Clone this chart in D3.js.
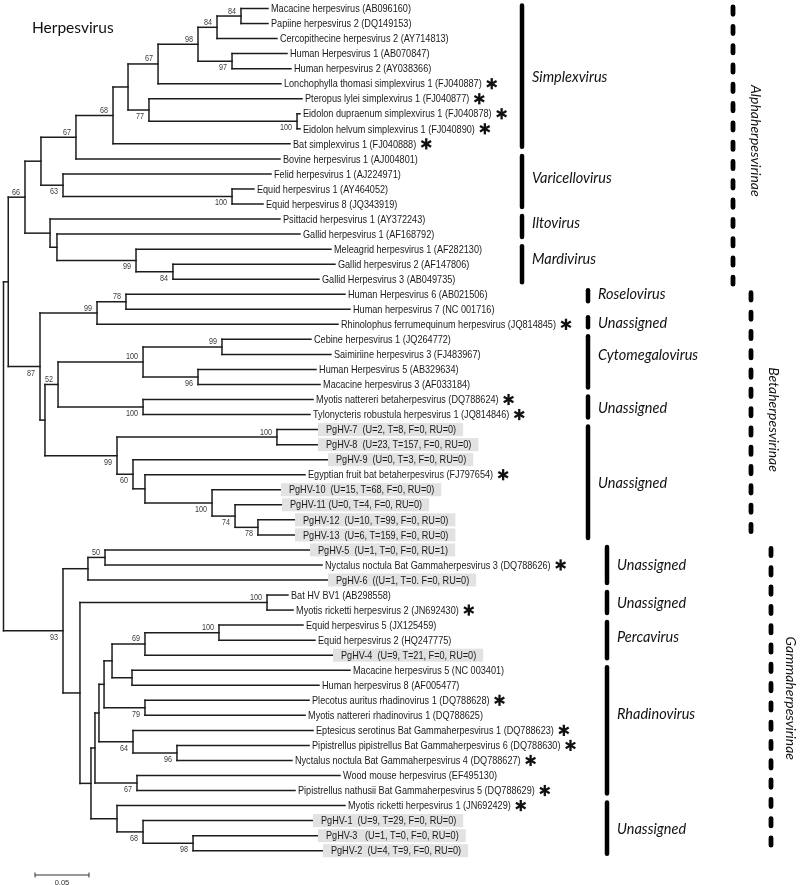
<!DOCTYPE html>
<html><head><meta charset="utf-8">
<script src="https://cdn.jsdelivr.net/npm/d3@7"></script>
<style>
html,body{margin:0;padding:0;background:#fff;}
svg{display:block;opacity:0.999;will-change:transform;}
text{white-space:pre;}
</style></head><body>
<svg id="chart" width="800" height="885"></svg>
<script>
// ---------------- DATA ----------------
const taxa = [
 "Macacine herpesvirus (AB096160)","Papiine herpesvirus 2 (DQ149153)","Cercopithecine herpesvirus 2 (AY714813)",
 "Human Herpesvirus 1 (AB070847)","Human herpesvirus 2 (AY038366)","Lonchophylla thomasi simplexvirus 1 (FJ040887)",
 "Pteropus lylei simplexvirus 1 (FJ040877)","Eidolon dupraenum simplexvirus 1 (FJ040878)","Eidolon helvum simplexvirus 1 (FJ040890)",
 "Bat simplexvirus 1 (FJ040888)","Bovine herpesvirus 1 (AJ004801)","Felid herpesvirus 1 (AJ224971)",
 "Equid herpesvirus 1 (AY464052)","Equid herpesvirus 8 (JQ343919)","Psittacid herpesvirus 1 (AY372243)",
 "Gallid herpesvirus 1 (AF168792)","Meleagrid herpesvirus 1 (AF282130)","Gallid herpesvirus 2 (AF147806)",
 "Gallid Herpesvirus 3 (AB049735)","Human Herpesvirus 6 (AB021506)","Human herpesvirus 7 (NC 001716)",
 "Rhinolophus ferrumequinum herpesvirus (JQ814845)","Cebine herpesvirus 1 (JQ264772)","Saimiriine herpesvirus 3 (FJ483967)",
 "Human Herpesvirus 5 (AB329634)","Macacine herpesvirus 3 (AF033184)","Myotis nattereri betaherpesvirus (DQ788624)",
 "Tylonycteris robustula herpesvirus 1 (JQ814846)","PgHV-7  (U=2, T=8, F=0, RU=0)","PgHV-8  (U=23, T=157, F=0, RU=0)",
 "PgHV-9  (U=0, T=3, F=0, RU=0)","Egyptian fruit bat betaherpesvirus (FJ797654)","PgHV-10  (U=15, T=68, F=0, RU=0)",
 "PgHV-11 (U=0, T=4, F=0, RU=0)","PgHV-12  (U=10, T=99, F=0, RU=0)","PgHV-13  (U=6, T=159, F=0, RU=0)",
 "PgHV-5  (U=1, T=0, F=0, RU=1)","Nyctalus noctula Bat Gammaherpesvirus 3 (DQ788626)","PgHV-6  ((U=1, T=0. F=0, RU=0)",
 "Bat HV BV1 (AB298558)","Myotis ricketti herpesvirus 2 (JN692430)","Equid herpesvirus 5 (JX125459)",
 "Equid herpesvirus 2 (HQ247775)","PgHV-4  (U=9, T=21, F=0, RU=0)","Macacine herpesvirus 5 (NC 003401)",
 "Human herpesvirus 8 (AF005477)","Plecotus auritus rhadinovirus 1 (DQ788628)","Myotis nattereri rhadinovirus 1 (DQ788625)",
 "Eptesicus serotinus Bat Gammaherpesvirus 1 (DQ788623)","Pipistrellus pipistrellus Bat Gammaherpesvirus 6 (DQ788630)",
 "Nyctalus noctula Bat Gammaherpesvirus 4 (DQ788627)","Wood mouse herpesvirus (EF495130)",
 "Pipistrellus nathusii Bat Gammaherpesvirus 5 (DQ788629)","Myotis ricketti herpesvirus 1 (JN692429)",
 "PgHV-1  (U=9, T=29, F=0, RU=0)","PgHV-3   (U=1, T=0, F=0, RU=0)","PgHV-2  (U=4, T=9, F=0, RU=0)"
];
// distance of each tip from the root (substitutions/site)
const tipDistance = [
 0.2449,0.2449,0.2532,0.2625,0.2662,0.2569,0.2764,0.2745,0.2745,0.2653,
 0.2560,0.2477,0.2319,0.2403,0.2560,0.2745,0.3032,0.3069,0.2921,0.3162,
 0.3208,0.3097,0.2847,0.3032,0.2894,0.2931,0.2866,0.2838,0.2912,0.2912,
 0.3005,0.2792,0.2569,0.2579,0.2699,0.2699,0.2838,0.2949,0.3005,0.2634,
 0.2681,0.2773,0.2884,0.3051,0.3208,0.2921,0.2829,0.2792,0.2866,0.2829,
 0.2671,0.3116,0.2699,0.3162,0.2866,0.2912,0.2958
];
// bat herpesviruses marked with an asterisk (tip indices)
const starredTips = [5,6,7,8,9,21,26,27,31,37,40,46,48,49,50,52,53];
// newly detected PgHV sequences (highlighted tips)
const highlightedTips = [28,29,30,32,33,34,35,36,38,43,54,55,56];
// internal nodes: [id, children, distance from root, bootstrap]
const clades = [
 ["a1",["L0","L1"],0.2199,"84"],["a2",["a1","L2"],0.1977,"84"],["a3",["L3","L4"],0.2116,"97"],
 ["a4",["a2","a3"],0.1801,"98"],["a5",["a4","L5"],0.1431,"67"],["a6",["L7","L8"],0.2718,"100"],
 ["a7",["L6","a6"],0.1347,"77"],["a8",["a5","a7"],0.1153,""],["a9",["a8","L9"],0.1014,"68"],
 ["a10",["a9","L10"],0.0671,"67"],["a11",["L12","L13"],0.2116,"100"],["a12",["L11","a11"],0.0551,"63"],
 ["a13",["a10","a12"],0.0347,""],["a14",["L17","L18"],0.1569,"84"],["a15",["L16","a14"],0.1227,"99"],
 ["a16",["L15","a15"],0.0495,""],["a17",["L14","a16"],0.0431,""],["a18",["a13","a17"],0.0199,"66"],
 ["b1",["L19","L20"],0.1134,"78"],["b2",["b1","L21"],0.0866,"99"],["b3",["L22","L23"],0.2023,"99"],
 ["b4",["L24","L25"],0.1801,"96"],["b5",["b3","b4"],0.1292,"100"],["b6",["L26","L27"],0.1292,"100"],
 ["b7",["b5","b6"],0.0505,"52"],["b8",["L28","L29"],0.2532,"100"],["b9",["L34","L35"],0.2356,"78"],
 ["b10",["L33","b9"],0.2144,"74"],["b11",["L32","b10"],0.1931,"100"],["b12",["L31","b11"],0.1310,""],
 ["b13",["L30","b12"],0.1199,"60"],["b14",["b8","b13"],0.1051,"99"],["b15",["b7","b14"],0.0384,""],
 ["b16",["b2","b15"],0.0338,"87"],["ab",["a18","b16"],0.0044,""],
 ["g1",["L36","L37"],0.0940,"50"],["g2",["g1","L38"],0.0782,""],["g3",["L39","L40"],0.2440,"100"],
 ["g4",["L41","L42"],0.1995,"100"],["g5",["g4","L43"],0.1310,"69"],["g6",["L44","L45"],0.1190,""],
 ["g7",["g5","g6"],0.1005,""],["g8",["L46","L47"],0.1310,"79"],["g9",["g7","g8"],0.0931,""],
 ["g10",["L49","L50"],0.1606,"96"],["g11",["L48","g10"],0.1199,"64"],["g12",["g9","g11"],0.0884,""],
 ["g13",["L51","L52"],0.1236,"67"],["g14",["g12","g13"],0.0847,""],["g15",["L55","L56"],0.1755,"98"],
 ["g16",["L54","g15"],0.1292,"68"],["g17",["L53","g16"],0.1051,""],["g18",["g14","g17"],0.0810,""],
 ["g19",["g3","g18"],0.0708,""],["g20",["g2","g19"],0.0551,"93"],["root",["ab","g20"],0,""]
];
// genera: [name, first tip, last tip, subfamily]
const genera = [
 ["Simplexvirus",0,9,"alpha"],["Varicellovirus",10,13,"alpha"],["Iltovirus",14,15,"alpha"],["Mardivirus",16,18,"alpha"],
 ["Roselovirus",19,20,"beta"],["Unassigned",21,21,"beta"],["Cytomegalovirus",22,25,"beta"],["Unassigned",26,27,"beta"],
 ["Unassigned",28,35,"beta"],
 ["Unassigned",36,38,"gamma"],["Unassigned",39,40,"gamma"],["Percavirus",41,43,"gamma"],["Rhadinovirus",44,52,"gamma"],
 ["Unassigned",53,56,"gamma"]
];
const subfamilies = [["Alphaherpesvirinae",0,18,"alpha"],["Betaherpesvirinae",19,35,"beta"],["Gammaherpesvirinae",36,56,"gamma"]];
const scaleBarValue = 0.05;
const title = "Herpesvirus";

// ---------------- LAYOUT ----------------
const svg = d3.select("#chart");
const x = d3.scaleLinear().domain([0, 0.3]).range([3.5, 3.5 + 0.3 * 1080]);
const y = d3.scalePoint().domain(d3.range(taxa.length)).range([8.5, 850.7]);
const genusX = {alpha: 522, beta: 588, gamma: 607};
const subX = {alpha: 733, beta: 751, gamma: 771};
const barTrim = {"Roselovirus": [-4, -8], "Unassigned21": [-7, 3]};
const genusLabelShift = {"Varicellovirus":-4,"Iltovirus":-4,"Mardivirus":-6,"Roselovirus":-8,"Unassigned21":-2,"Cytomegalovirus":-7,"Percavirus":-4,"Rhadinovirus":-17};
const LINE = "#1c1c1c";

const nodes = {};
taxa.forEach((t, i) => { nodes["L" + i] = {id: "L" + i, x: x(tipDistance[i]), y: y(i), leaf: true, i}; });
clades.forEach(([id, ch, d, bs]) => {
  const kids = ch.map(c => nodes[c]);
  kids.forEach((k, j) => { k.parent = id; k.order = j; });
  nodes[id] = {id, x: x(d), y: (kids[0].y + kids[kids.length - 1].y) / 2, kids, bs};
});

const gTree = svg.append("g");
clades.forEach(([id]) => {
  const n = nodes[id];
  gTree.append("line").attr("x1", n.x).attr("x2", n.x)
    .attr("y1", n.kids[0].y).attr("y2", n.kids[n.kids.length - 1].y)
    .attr("stroke", LINE).attr("stroke-width", 1.5).attr("stroke-linecap", "square");
  n.kids.forEach(k => {
    gTree.append("line").attr("x1", n.x).attr("x2", k.x).attr("y1", k.y).attr("y2", k.y)
      .attr("stroke", LINE).attr("stroke-width", 1.5).attr("stroke-linecap", "square");
  });
});

// bootstrap values
const gBs = svg.append("g");
clades.forEach(([id]) => {
  const n = nodes[id];
  if (!n.bs) return;
  const above = n.order === 0;
  gBs.append("text").attr("transform", `translate(${n.x - 5},${above ? n.y - 2.5 : n.y + 9}) scale(0.85,1)`)
    .attr("text-anchor", "end").attr("font-family", "Liberation Sans, Arial, sans-serif")
    .attr("font-size", 8.5).attr("fill", "#3a3a3a").text(n.bs);
});

// tip labels
const hl = new Set(highlightedTips), st = new Set(starredTips);
const gLab = svg.append("g");
taxa.forEach((t, i) => {
  const n = nodes["L" + i];
  const isHl = hl.has(i);
  const tx = n.x + (isHl ? 8 : 3);
  const box = gLab.append("rect");
  const txt = gLab.append("text").attr("transform", `translate(${tx},${n.y + 3.7}) scale(0.87,1)`)
    .attr("font-family", "Liberation Sans, Arial, sans-serif").attr("font-size", 10.5)
    .attr("fill", "#1a1a1a").text(t);
  const w = txt.node().getComputedTextLength() * 0.87;
  const end = tx + w;
  if (isHl) {
    box.attr("x", n.x).attr("y", n.y - 6.5).attr("width", end + 7 - n.x).attr("height", 13).attr("fill", "#e2e2e2");
  } else box.remove();
  if (st.has(i)) {
    const cx = end + 10, cy = n.y, r = 5.6;
    const a = gLab.append("g").attr("transform", `translate(${cx},${cy})`);
    [90, 30, 150].forEach(deg => {
      const rad = deg * Math.PI / 180;
      a.append("line").attr("x1", -r * Math.cos(rad)).attr("y1", -r * Math.sin(rad))
        .attr("x2", r * Math.cos(rad)).attr("y2", r * Math.sin(rad))
        .attr("stroke", "#111").attr("stroke-width", 2.3);
    });
  }
});

// genus bars
const labelFont = "Lato, 'Open Sans', sans-serif";
genera.forEach(([name, f, l, sf]) => {
  const key = name === "Unassigned" && f === 21 ? "Unassigned21" : name;
  const trim = barTrim[key] || [-3, 3];
  const bx = genusX[sf];
  const y1 = y(f) + trim[0], y2 = y(l) + trim[1];
  svg.append("line").attr("x1", bx).attr("x2", bx).attr("y1", y1).attr("y2", y2)
    .attr("stroke", "#000").attr("stroke-width", 4.5).attr("stroke-linecap", "round");
  svg.append("text").attr("x", bx + 10).attr("y", (y(f) + y(l)) / 2 + (genusLabelShift[key] || 0))
    .attr("dominant-baseline", "central").attr("font-family", labelFont).attr("font-style", "italic")
    .attr("font-size", 14.5).attr("fill", "#111").text(name);
});

// subfamily dashed bars
subfamilies.forEach(([name, f, l, sf]) => {
  const bx = subX[sf];
  svg.append("line").attr("x1", bx).attr("x2", bx).attr("y1", y(f) - 1.5).attr("y2", y(l) + 5)
    .attr("stroke", "#000").attr("stroke-width", 4.8).attr("stroke-linecap", "round")
    .attr("stroke-dasharray", "7.3 12");
  const cy = (y(f) + y(l)) / 2 + (sf === "alpha" ? -3 : sf === "beta" ? 5 : -2);
  svg.append("text").attr("transform", `translate(${bx + (sf === "gamma" ? 20 : 23)},${cy}) rotate(90)`)
    .attr("text-anchor", "middle").attr("dominant-baseline", "central")
    .attr("font-family", labelFont).attr("font-style", "italic").attr("font-size", 14)
    .attr("fill", "#111").text(name);
});

// title
svg.append("text").attr("x", 32).attr("y", 33).attr("font-family", labelFont)
  .attr("font-size", 15.5).attr("fill", "#111").text(title);

// scale bar
const sbx = 35, sby = 875, sbw = x(scaleBarValue) - x(0);
svg.append("path").attr("d", `M${sbx},${sby - 2.5}V${sby + 2.5}M${sbx},${sby}H${sbx + sbw}M${sbx + sbw},${sby - 2.5}V${sby + 2.5}`)
  .attr("stroke", "#333").attr("stroke-width", 1).attr("fill", "none");
svg.append("text").attr("x", sbx + sbw / 2).attr("y", 884.5).attr("text-anchor", "middle")
  .attr("font-family", "Liberation Sans, Arial, sans-serif").attr("font-size", 7.5).attr("fill", "#333").text(String(scaleBarValue));
</script>
</body></html>
